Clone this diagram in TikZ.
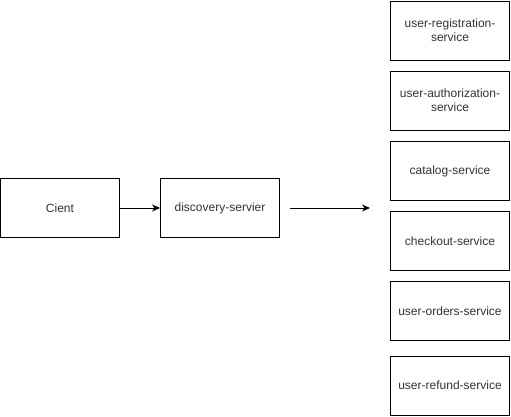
\documentclass[tikz,border=0pt]{standalone}
\usepackage{fontspec}
\setmainfont{Liberation Sans}
\usetikzlibrary{arrows.meta}
\begin{document}
\begin{tikzpicture}[x=1pt,y=-1pt,
  box/.style={draw=black,line width=1pt,fill=white,minimum width=119pt,minimum height=59pt,inner sep=0pt,align=center,font=\fontsize{12}{14}\selectfont,text=black!80},
  conn/.style={line width=1pt,-{Stealth[length=8pt,width=7pt,inset=2.5pt]}}]
\useasboundingbox (0,0) rectangle (511,416);
\node[box] (client) at (60,208) {Cient};
\node[box] (disc) at (220,208) {discovery-servier};
\node[box] (reg) at (450,30.5) {user-registration-\\service};
\node[box] (auth) at (450,100.5) {user-authorization-\\service};
\node[box] (cat) at (450,171) {catalog-service};
\node[box] (chk) at (450,241) {checkout-service};
\node[box] (ord) at (450,311) {user-orders-service};
\node[box] (ref) at (450,385.5) {user-refund-service};
\coordinate (a1) at (290,208);
\coordinate (a2) at (370,208);
\draw[conn] (client) -- (disc);
\draw[conn] (a1) -- (a2);
\end{tikzpicture}
\end{document}
